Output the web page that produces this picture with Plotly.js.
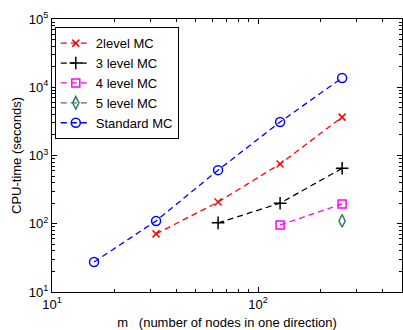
<!DOCTYPE html>
<html>
<head>
<meta charset="utf-8">
<script src="https://cdn.plot.ly/plotly-3.0.1.min.js"></script>
<style>html,body{margin:0;padding:0;background:#fff;}#chart{width:403px;height:330px;}</style>
</head>
<body>
<div id="chart"></div>
<script>
const seriesNames = ['2level MC', '3 level MC', '4 level MC', '5 level MC', 'Standard MC'];
const x2 = [32, 64, 128, 256];
const y2 = [71, 208, 750, 3650];
const x3 = [64, 128, 256];
const y3 = [103, 200, 650];
const x4 = [128, 256];
const y4 = [96, 195];
const x5 = [256];
const y5 = [110];
const xs = [16, 32, 64, 128, 256];
const ys = [27.5, 110, 610, 3100, 13700];
const xTickVals = [10, 100];
const xTickText = ['10<sup>1</sup>', '10<sup>2</sup>'];
const yTickVals = [10, 100, 1000, 10000, 100000];
const yTickText = ['10<sup>1</sup>', '10<sup>2</sup>', '10<sup>3</sup>', '10<sup>4</sup>', '10<sup>5</sup>'];

const dash = '6px,4px';
function tr(x, y, name, color, symbol, size) {
  return {
    x: x, y: y, name: name, type: 'scatter', mode: 'lines+markers',
    line: {color: color, width: 1.3, dash: dash},
    marker: {symbol: symbol, size: size, color: color, line: {color: color, width: 1.5}}
  };
}
const data = [
  tr(x2, y2, seriesNames[0], '#ff0000', 'x-thin-open', 7),
  tr(x3, y3, seriesNames[1], '#000000', 'cross-thin-open', 9),
  tr(x4, y4, seriesNames[2], '#ff00ff', 'square-open', 8),
  tr(x5, y5, seriesNames[3], '#3d7a5c', 'diamond-tall-open', 9),
  tr(xs, ys, seriesNames[4], '#0000ff', 'circle-open', 9)
];
const fontFam = 'Liberation Sans, Arial, sans-serif';
const axisCommon = {
  type: 'log', showgrid: false, zeroline: false,
  showline: true, linecolor: '#000', linewidth: 1, mirror: 'ticks',
  ticks: 'inside', ticklen: 5, tickcolor: '#000', tickwidth: 1,
  tickmode: 'array',
  tickfont: {family: fontFam, size: 13, color: '#000'},
  minor: {ticks: 'inside', ticklen: 3, tickcolor: '#000', dtick: 'D1', showgrid: false}
};
const layout = {
  width: 403, height: 330,
  margin: {l: 52, r: 1, t: 19, b: 38},
  paper_bgcolor: '#fff', plot_bgcolor: '#fff',
  showlegend: true,
  font: {family: fontFam, size: 13, color: '#000'},
  xaxis: Object.assign({}, axisCommon, {
    range: [1, Math.log10(500)],
    tickvals: xTickVals, ticktext: xTickText,
    title: {text: 'm   (number of nodes in one direction)', font: {size: 13}, standoff: 10}
  }),
  yaxis: Object.assign({}, axisCommon, {
    range: [1, 5],
    tickvals: yTickVals, ticktext: yTickText,
    title: {text: 'CPU-time (seconds)', font: {size: 13}, standoff: 4}
  }),
  legend: {
    x: 0.008, y: 0.97, xanchor: 'left', yanchor: 'top',
    bgcolor: '#fff', bordercolor: '#000', borderwidth: 1,
    font: {size: 13}, tracegroupgap: 0, itemwidth: 30
  }
};
Plotly.newPlot('chart', data, layout, {displayModeBar: false, staticPlot: true});
</script>
</body>
</html>
